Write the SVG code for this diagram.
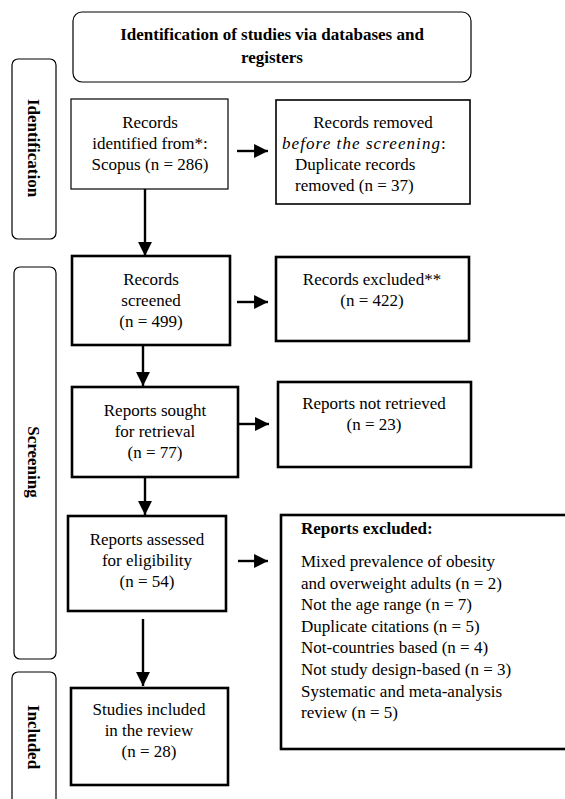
<svg xmlns="http://www.w3.org/2000/svg" width="565" height="799" viewBox="0 0 565 799">
<style>
text{font-family:"Liberation Serif","Times New Roman",serif;font-size:17px;fill:#000}
.b{font-weight:bold}
.c{text-anchor:middle}
.thin{fill:#fff;stroke:#000;stroke-width:1.2}
.mid{fill:#fff;stroke:#000;stroke-width:1.6}
.thick{fill:#fff;stroke:#000;stroke-width:2.6}
.side{fill:#fff;stroke:#000;stroke-width:1.2}
.conn{stroke:#000;stroke-width:2.4;fill:none;marker-end:url(#ah)}
</style>
<defs>
<marker id="ah" viewBox="0 0 10 10" refX="10" refY="5" markerWidth="5.8" markerHeight="6.2" orient="auto" markerUnits="strokeWidth">
<path d="M0,0 L10,5 L0,10 z" fill="#000"/>
</marker>
<clipPath id="clipRemoved"><rect x="276" y="100" width="194" height="94.5"/></clipPath>
</defs>
<rect width="565" height="799" fill="#fff"/>

<g id="title">
<rect class="thin" x="73" y="12" width="398" height="70" rx="9"/>
<text class="b c" x="272" y="40">Identification of studies via databases and</text>
<text class="b c" x="272" y="63">registers</text>
</g>

<g id="side-identification">
<rect class="side" x="12" y="59" width="44" height="180" rx="6"/>
<text class="b c" transform="translate(28,148) rotate(90)">Identification</text>
</g>

<g id="side-screening">
<rect class="side" x="14" y="267" width="42" height="392" rx="6"/>
<text class="b c" transform="translate(28,462) rotate(90)">Screening</text>
</g>

<g id="side-included">
<rect class="side" x="12" y="672" width="44" height="150" rx="6"/>
<text class="b c" transform="translate(28,737) rotate(90)">Included</text>
</g>

<g id="connectors">
<line class="conn" x1="237" y1="151" x2="268" y2="151"/>
<line class="conn" x1="145" y1="189" x2="145" y2="256"/>
<line class="conn" x1="237" y1="302" x2="268" y2="302"/>
<line class="conn" x1="143" y1="345" x2="143" y2="386"/>
<line class="conn" x1="239" y1="424" x2="269" y2="424"/>
<line class="conn" x1="145" y1="477" x2="145" y2="515"/>
<line class="conn" x1="238" y1="561" x2="268" y2="561"/>
<line class="conn" x1="143" y1="619" x2="143" y2="686"/>
</g>

<g id="records-identified">
<rect class="thin" x="71" y="99" width="157" height="90"/>
<text class="c" x="150" y="128">Records</text>
<text class="c" x="150" y="149">identified from*:</text>
<text class="c" x="150" y="170">Scopus (n = 286)</text>
</g>

<g id="records-removed">
<rect class="mid" x="276" y="100" width="194" height="104"/>
<g clip-path="url(#clipRemoved)">
<text class="c" x="373" y="128">Records removed</text>
<text x="282" y="149"><tspan font-style="italic" textLength="158" lengthAdjust="spacing">before the screening</tspan>:</text>
<text x="295" y="170">Duplicate records</text>
<text x="295" y="191">removed (n = 37)</text>
</g>
</g>

<g id="records-screened">
<rect class="thick" x="72" y="256" width="158" height="89"/>
<text class="c" x="151" y="285">Records</text>
<text class="c" x="151" y="306">screened</text>
<text class="c" x="151" y="327">(n = 499)</text>
</g>

<g id="records-excluded">
<rect class="thick" x="276" y="257" width="193" height="84"/>
<text class="c" x="372" y="285">Records excluded**</text>
<text class="c" x="372" y="306">(n = 422)</text>
</g>

<g id="reports-sought">
<rect class="thick" x="72" y="387" width="166" height="90"/>
<text class="c" x="155" y="416">Reports sought</text>
<text class="c" x="155" y="437">for retrieval</text>
<text class="c" x="155" y="458">(n = 77)</text>
</g>

<g id="reports-not-retrieved">
<rect class="thick" x="278" y="382" width="193" height="85"/>
<text class="c" x="374" y="409">Reports not retrieved</text>
<text class="c" x="374" y="430">(n = 23)</text>
</g>

<g id="reports-assessed">
<rect class="thick" x="68" y="516" width="158" height="95"/>
<text class="c" x="147" y="545">Reports assessed</text>
<text class="c" x="147" y="566">for eligibility</text>
<text class="c" x="147" y="587">(n = 54)</text>
</g>

<g id="reports-excluded">
<rect class="thick" x="281" y="515" width="300" height="234"/>
<text class="b" x="301" y="534">Reports excluded:</text>
<text x="301" y="567">Mixed prevalence of obesity</text>
<text x="301" y="588.6">and overweight adults (n = 2)</text>
<text x="301" y="610.2">Not the age range (n = 7)</text>
<text x="301" y="631.8">Duplicate citations (n = 5)</text>
<text x="301" y="653.4">Not-countries based (n = 4)</text>
<text x="301" y="675">Not study design-based (n = 3)</text>
<text x="301" y="696.6">Systematic and meta-analysis</text>
<text x="301" y="718.2">review (n = 5)</text>
</g>

<g id="studies-included">
<rect class="thick" x="71" y="688" width="157" height="97"/>
<text class="c" x="149" y="715">Studies included</text>
<text class="c" x="149" y="736">in the review</text>
<text class="c" x="149" y="757">(n = 28)</text>
</g>
</svg>
